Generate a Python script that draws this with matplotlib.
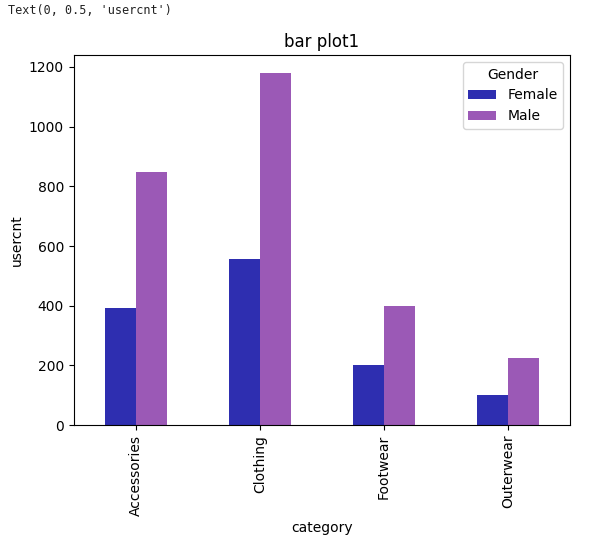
import matplotlib
matplotlib.use("Agg")
import matplotlib.pyplot as plt
import numpy as np
import pandas as pd

categories = ["Accessories", "Clothing", "Footwear", "Outerwear"]
female = [392, 556, 200, 100]
male = [848, 1180, 399, 224]

df = pd.DataFrame({"Female": female, "Male": male}, index=categories)
df.index.name = "category"
df.columns.name = "Gender"

fig = plt.figure(figsize=(5.95, 5.45), dpi=100)
ax = fig.add_axes([0.124, 0.22, 0.834, 0.679])

df.plot(kind="bar", ax=ax, color=["#2e2eb0", "#9b59b6"])
ax.set_title("bar plot1")
ax.set_ylabel("usercnt")
ax.set_ylim(0, 1240)

# notebook output line above the figure
fig.text(8 / 595, 1 - 11 / 545, "Text(0, 0.5, 'usercnt')", family="DejaVu Sans Mono",
         fontsize=8.5, va="center", ha="left", color="#222222")

fig.savefig("out.png", dpi=100)
